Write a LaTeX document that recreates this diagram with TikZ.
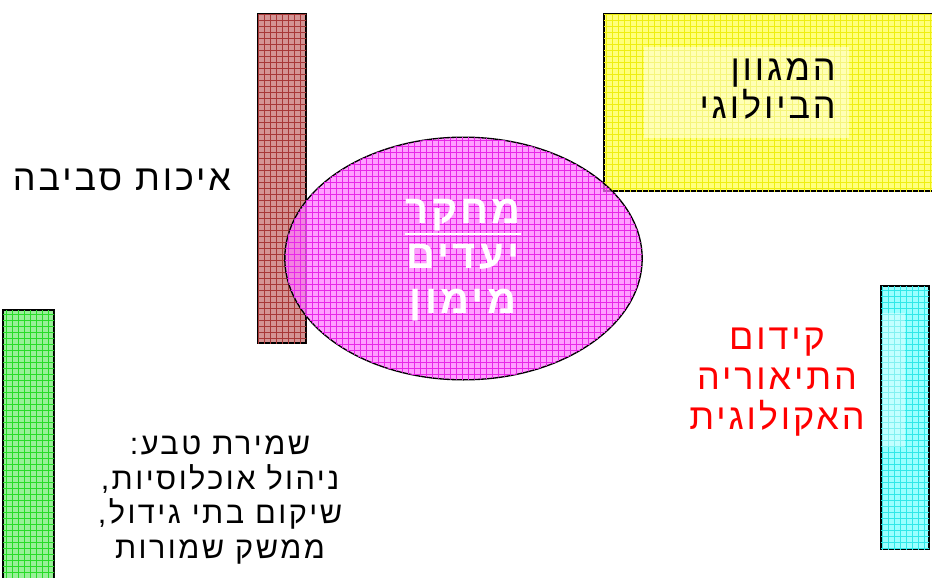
\documentclass[tikz,border=0pt]{standalone}
\usepackage{fontspec}
\setmainfont{Liberation Sans}
\newfontfamily\hebfont[Script=Hebrew,LetterSpace=8]{Liberation Sans}
\TeXXeTstate=1
\usepackage{tikz}
\usetikzlibrary{positioning,patterns.meta,shapes.geometric}
\definecolor{EnvBase}{HTML}{D49494}
\definecolor{EnvLine}{HTML}{A83838}
\definecolor{BioBase}{HTML}{FFFF7A}
\definecolor{BioLine}{HTML}{EEEE10}
\definecolor{CoreBase}{HTML}{FF7AFF}
\definecolor{CoreLine}{HTML}{E828E8}
\definecolor{EcoBase}{HTML}{9AFFFF}
\definecolor{EcoLine}{HTML}{30E8E8}
\definecolor{ConsBase}{HTML}{98F098}
\definecolor{ConsLine}{HTML}{28DC28}
\tikzset{checks/.style={postaction={pattern={Lines[distance=4.5pt,line width=0.5pt]},pattern color=#1},
    postaction={pattern={Lines[distance=4.5pt,angle=90,line width=0.5pt]},pattern color=#1}}}
\newcommand\thickul[1]{\vtop{\hbox{#1}\kern1.5pt\hrule height 1.8pt}}

\begin{document}
\begin{tikzpicture}[x=0.75pt,y=-0.75pt]
  \tikzstyle{panel}=[draw=black,line width=1.3pt]
  \tikzstyle{heb}=[font=\hebfont\fontsize{26}{28}\selectfont,align=center,inner sep=0pt]
  \useasboundingbox (0,0) rectangle (932,578);
  \draw[panel,fill=EnvBase,checks=EnvLine] (258,14) rectangle (306,343);
  \draw[panel,fill=BioBase,checks=BioLine] (604,14) rectangle (940,191);
  \fill[white,opacity=0.45] (644,47) rectangle (849,138);
  \draw[panel,fill=EcoBase,checks=EcoLine] (881,286) rectangle (929,549);
  \fill[white,opacity=0.4] (882,313) rectangle (905,447);
  \draw[panel,fill=ConsBase,checks=ConsLine] (3,310) rectangle (54,590);
  \node[ellipse,draw=black,line width=1pt,fill=CoreBase,fill opacity=0.72,text opacity=1,
    checks=CoreLine,minimum width=268pt,minimum height=182pt] (core) at (463.5,258.5) {};
  \node[heb,text=white,font=\hebfont\bfseries\fontsize{30}{34}\selectfont] (corelbl) at (463,260)
    {\thickul{\beginR מחקר\endR}\\\beginR יעדים\endR\\\beginR מימון\endR};
  \node[heb,align=right,anchor=east,font=\hebfont\fontsize{27}{24}\selectfont] (bio) at (836,89)
    {\beginR המגוון\endR\\\beginR הביולוגי\endR};
  \node[heb,font=\hebfont\fontsize{27}{30}\selectfont] (env) at (122,180) {\beginR איכות סביבה\endR};
  \node[heb,text=red,font=\hebfont\fontsize{27}{30}\selectfont] (eco) at (777,382)
    {\beginR קידום\endR\\\beginR התיאוריה\endR\\\beginR האקולוגית\endR};
  \node[heb,font=\hebfont\fontsize{23}{26}\selectfont] (cons) at (220,500)
    {\beginR שמירת טבע:\endR\\\beginR ניהול אוכלוסיות,\endR\\\beginR שיקום בתי גידול,\endR\\\beginR ממשק שמורות\endR};
\end{tikzpicture}
\end{document}
